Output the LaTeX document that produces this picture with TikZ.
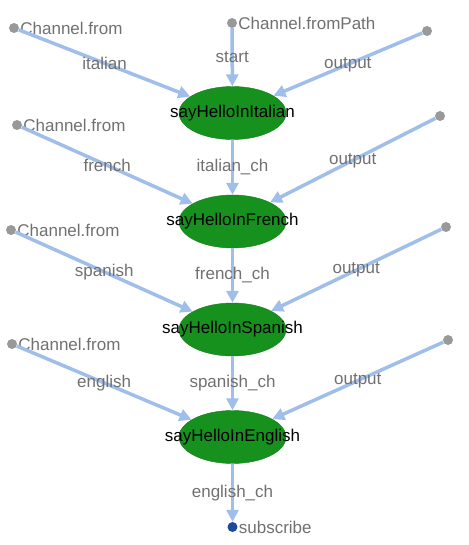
\documentclass[tikz,border=0pt]{standalone}
\usepackage{fontspec}
\setmainfont{Liberation Sans}
\usetikzlibrary{shapes.geometric,arrows.meta}
\definecolor{flowblue}{HTML}{A0BEEA}
\definecolor{procgreen}{HTML}{17911E}
\definecolor{dotgray}{HTML}{999999}
\definecolor{txtgray}{HTML}{707070}
\definecolor{subblue}{HTML}{1C4B9E}

\begin{document}
\begin{tikzpicture}
  [x=1pt,y=-1pt,every node/.style={font=\fontsize{17}{20}\selectfont},
   proc/.style={ellipse,fill=procgreen,draw=procgreen!85!black,minimum width=107pt,minimum height=53pt,inner sep=0pt},
   src/.style={circle,fill=dotgray,minimum size=10pt,inner sep=0pt},
   sink/.style={circle,fill=subblue,minimum size=10pt,inner sep=0pt},
   dotlabel/.style={text=txtgray,inner sep=1pt},
   elabel/.style={text=txtgray},
   flow/.style={draw=flowblue,line width=3.5pt,-{Triangle[length=12pt,width=12pt]}}]
  \useasboundingbox (0,0) rectangle (468,545);

  \node[src,label={[dotlabel]right:Channel.from}] (it_from) at (14,28) {};
  \node[src,label={[dotlabel]right:Channel.fromPath}] (it_path) at (232,23) {};
  \node[src] (it_out) at (427,31) {};
  \node[src,label={[dotlabel]right:Channel.from}] (fr_from) at (17,125) {};
  \node[src] (fr_out) at (440,116) {};
  \node[src,label={[dotlabel]right:Channel.from}] (es_from) at (11,230) {};
  \node[src] (es_out) at (446,227) {};
  \node[src,label={[dotlabel]right:Channel.from}] (en_from) at (12,344) {};
  \node[src] (en_out) at (448,340) {};

  \node[proc] (italian) at (232.5,113)   {\makebox[0pt]{sayHelloInItalian}};
  \node[proc] (french)  at (232.5,221.5) {\makebox[0pt]{sayHelloInFrench}};
  \node[proc] (spanish) at (232.5,329.5) {\makebox[0pt]{sayHelloInSpanish}};
  \node[proc] (english) at (232.5,437)   {\makebox[0pt]{sayHelloInEnglish}};
  \node[sink,label={[dotlabel]right:subscribe}] (subscribe) at (232.5,527) {};

  \foreach \from/\to/\txt in {it_from/italian/italian,it_path/italian/start,it_out/italian/output,
      italian/french/italian\_ch,fr_from/french/french,fr_out/french/output,
      french/spanish/french\_ch,es_from/spanish/spanish,es_out/spanish/output,
      spanish/english/spanish\_ch,en_from/english/english,en_out/english/output,
      english/subscribe/english\_ch}
    \draw[flow] (\from) -- node[elabel] {\txt} (\to);

\end{tikzpicture}
\end{document}
